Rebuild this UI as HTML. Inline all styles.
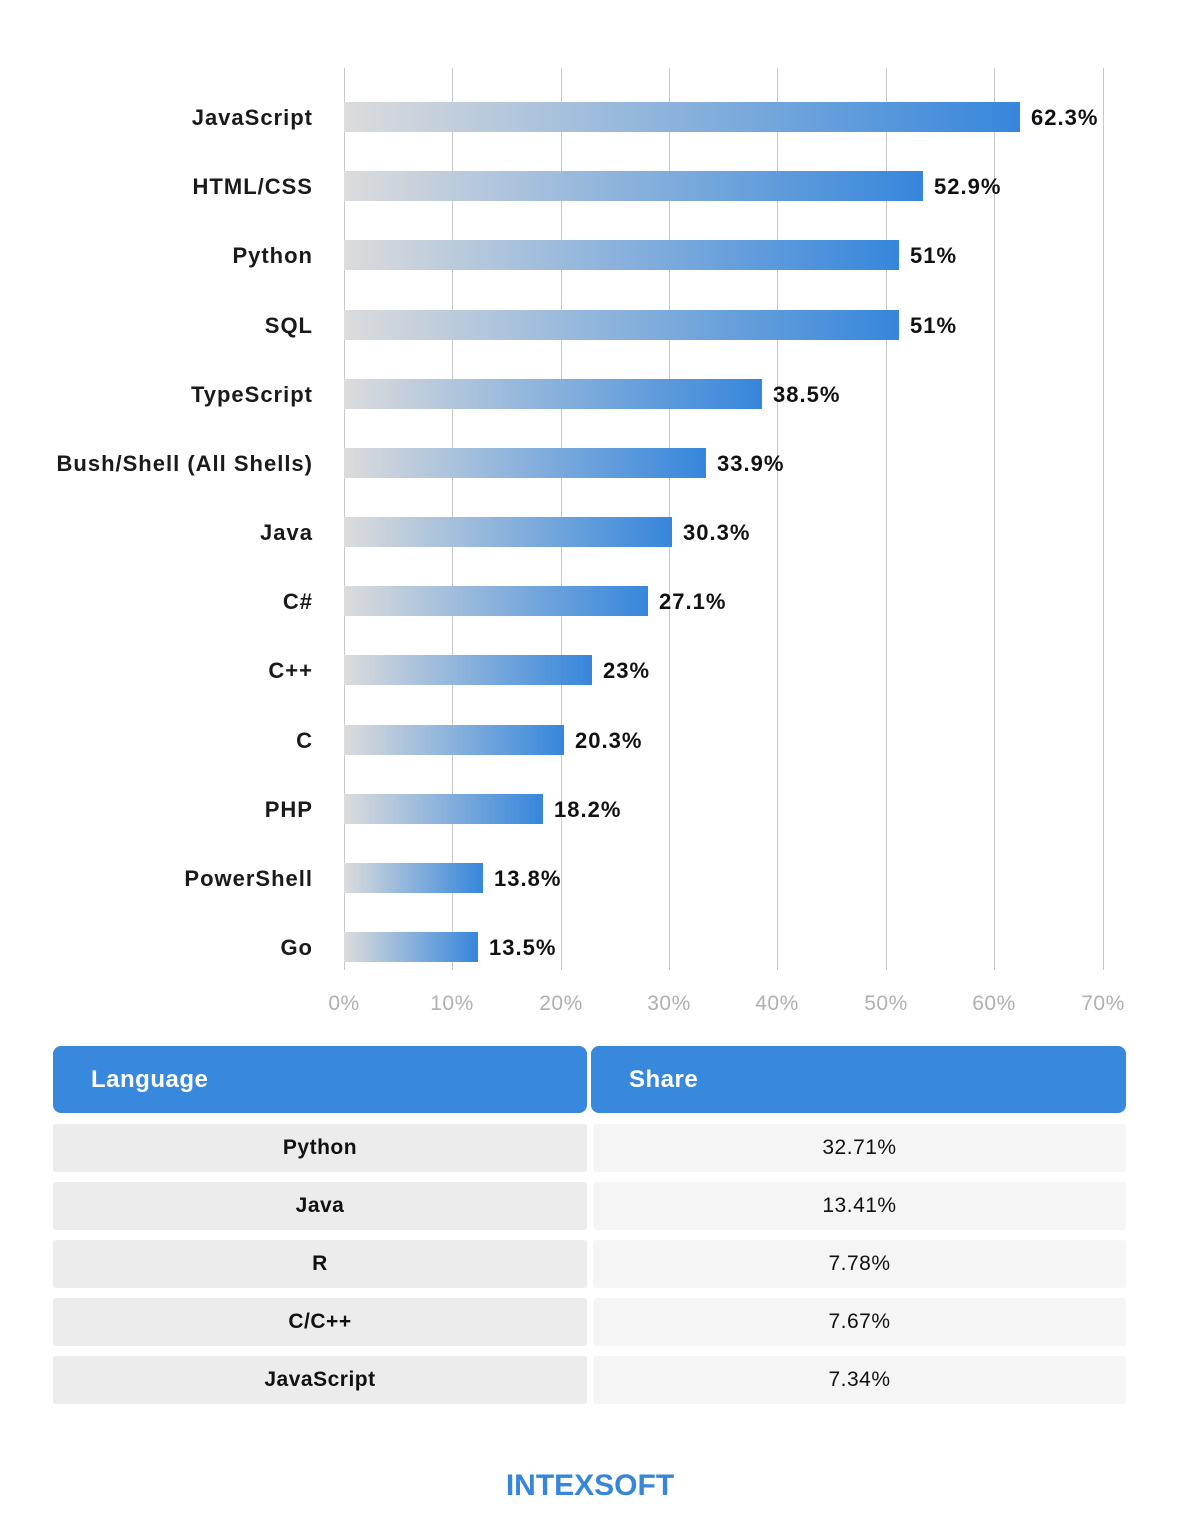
<!DOCTYPE html>
<html><head><meta charset="utf-8"><style>
body{margin:0;width:1182px;height:1536px;background:#fff;position:relative;font-family:"Liberation Sans",sans-serif;overflow:hidden}
.g{position:absolute;top:68px;height:902px;width:1px;background:#c8c8c8}
.t{position:absolute;top:992px;width:80px;margin-left:-40px;text-align:center;color:#b0b0b0;font-size:21px;letter-spacing:0.5px}
.l{position:absolute;right:869px;font-size:22px;letter-spacing:1px;font-weight:bold;color:#1a1a1a;line-height:30px;white-space:nowrap}
.b{position:absolute;left:344px;height:30px;background:linear-gradient(to right,#dcdcdc,#3686dc)}
.v{position:absolute;font-size:22px;letter-spacing:1px;font-weight:bold;color:#111;line-height:30px}
.h{position:absolute;top:1046px;height:67px;background:#3888dd;border-radius:8px;color:#fff;font-size:24px;letter-spacing:0.5px;font-weight:bold;line-height:67px;box-sizing:border-box;padding-left:38px}
.c{position:absolute;height:48px;line-height:48px;text-align:center;font-size:21px;letter-spacing:0.5px;color:#111;border-radius:3px}
.c1{left:53px;width:534px;background:#ececec;font-weight:bold}
.c2{left:593px;width:533px;background:#f5f5f5}
</style></head><body>
<div class="g" style="left:344px"></div><div class="g" style="left:452px"></div><div class="g" style="left:561px"></div><div class="g" style="left:669px"></div><div class="g" style="left:777px"></div><div class="g" style="left:886px"></div><div class="g" style="left:994px"></div><div class="g" style="left:1103px"></div>
<div class="t" style="left:344px">0%</div><div class="t" style="left:452px">10%</div><div class="t" style="left:561px">20%</div><div class="t" style="left:669px">30%</div><div class="t" style="left:777px">40%</div><div class="t" style="left:886px">50%</div><div class="t" style="left:994px">60%</div><div class="t" style="left:1103px">70%</div>
<div id="bars"></div>
<script>
var d=[["JavaScript",1020,"62.3%"],["HTML/CSS",923,"52.9%"],["Python",899,"51%"],["SQL",899,"51%"],["TypeScript",762,"38.5%"],["Bush/Shell (All Shells)",706,"33.9%"],["Java",672,"30.3%"],["C#",648,"27.1%"],["C++",592,"23%"],["C",564,"20.3%"],["PHP",543,"18.2%"],["PowerShell",483,"13.8%"],["Go",478,"13.5%"]];
var h="";d.forEach(function(r,i){var y=Math.round(102+i*69.17);var w=r[1]-344;
h+='<div class="l" style="top:'+(y+1)+'px">'+r[0]+'</div><div class="b" style="top:'+y+'px;width:'+w+'px"></div><div class="v" style="top:'+(y+1)+'px;left:'+(r[1]+11)+'px">'+r[2]+'</div>';});
document.getElementById("bars").innerHTML=h;
</script>
<div class="h" style="left:53px;width:534px">Language</div>
<div class="h" style="left:591px;width:535px">Share</div>
<div class="c c1" style="top:1124px">Python</div><div class="c c2" style="top:1124px">32.71%</div>
<div class="c c1" style="top:1182px">Java</div><div class="c c2" style="top:1182px">13.41%</div>
<div class="c c1" style="top:1240px">R</div><div class="c c2" style="top:1240px">7.78%</div>
<div class="c c1" style="top:1298px">C/C++</div><div class="c c2" style="top:1298px">7.67%</div>
<div class="c c1" style="top:1356px">JavaScript</div><div class="c c2" style="top:1356px">7.34%</div>
<div style="position:absolute;left:500px;top:1469px;width:180px;text-align:center;font-size:30px;font-weight:bold;color:#3686dc">INTEXSOFT</div>
</body></html>
